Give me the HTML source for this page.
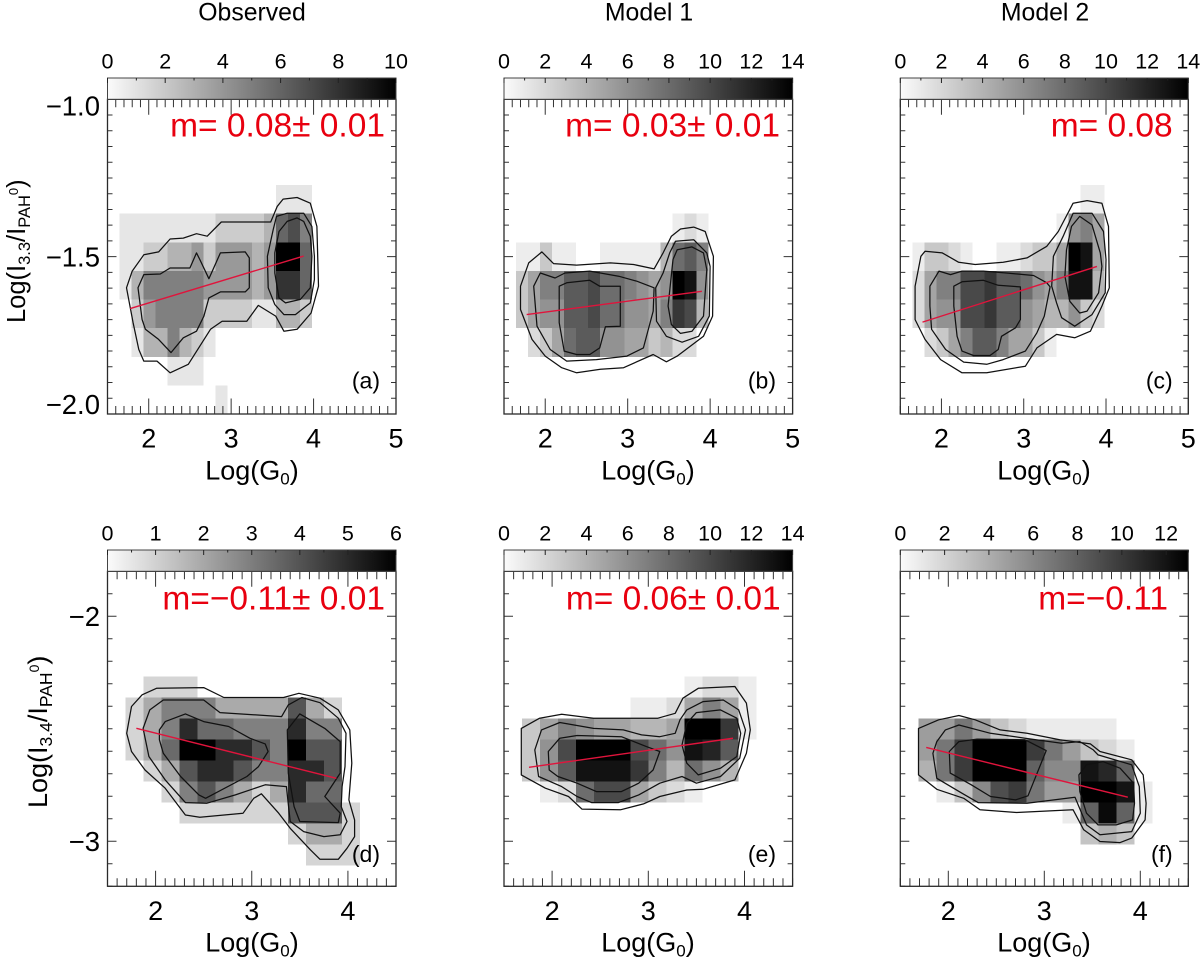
<!DOCTYPE html>
<html lang="en">
<head>
<meta charset="utf-8">
<title>Log(I/IPAH0) versus Log(G0) density panels</title>
<style>
html,body{margin:0;padding:0;background:#fff;}
svg{display:block;font-family:"Liberation Sans",Arial,sans-serif;}
.ttl{font-size:24.8px;fill:#000;text-anchor:middle;}
.xl{font-size:27px;fill:#000;text-anchor:middle;}
.m{font-size:33.5px;fill:#e8000f;text-anchor:end;}
.tag{font-size:23px;fill:#000;text-anchor:end;}
</style>
</head>
<body>
<svg id="figure" xmlns="http://www.w3.org/2000/svg" width="1200" height="958" viewBox="0 0 1200 958">
  <defs>
    <linearGradient id="cbar-gradient" x1="0" x2="1" y1="0" y2="0">
      <stop offset="0" stop-color="#fbfbfb"/>
      <stop offset="1" stop-color="#000"/>
    </linearGradient>
  </defs>
  <g id="marks"></g>

  <text class="ttl" x="252" y="20.5">Observed</text>
  <text class="ttl" x="649" y="20.5">Model 1</text>
  <text class="ttl" x="1045" y="20.5">Model 2</text>

  <text class="m" x="385" y="136.7">m= 0.08± 0.01</text>
  <text class="m" x="780" y="136.7">m= 0.03± 0.01</text>
  <text class="m" x="1172.7" y="136.7">m= 0.08</text>
  <text class="m" x="385" y="609.3">m=−0.11± 0.01</text>
  <text class="m" x="780.7" y="609.3">m= 0.06± 0.01</text>
  <text class="m" x="1168" y="609.3">m=−0.11</text>

  <text class="tag" x="380" y="388.5">(a)</text>
  <text class="tag" x="776" y="388.5">(b)</text>
  <text class="tag" x="1172.7" y="388.5">(c)</text>
  <text class="tag" x="380" y="862">(d)</text>
  <text class="tag" x="776" y="862">(e)</text>
  <text class="tag" x="1172.7" y="862">(f)</text>

  <text class="xl" x="252" y="479.3">Log(G<tspan font-size="17" dy="5">0</tspan><tspan dy="-5">)</tspan></text>
  <text class="xl" x="648" y="479.3">Log(G<tspan font-size="17" dy="5">0</tspan><tspan dy="-5">)</tspan></text>
  <text class="xl" x="1044" y="479.3">Log(G<tspan font-size="17" dy="5">0</tspan><tspan dy="-5">)</tspan></text>
  <text class="xl" x="252" y="951.5">Log(G<tspan font-size="17" dy="5">0</tspan><tspan dy="-5">)</tspan></text>
  <text class="xl" x="648" y="951.5">Log(G<tspan font-size="17" dy="5">0</tspan><tspan dy="-5">)</tspan></text>
  <text class="xl" x="1044" y="951.5">Log(G<tspan font-size="17" dy="5">0</tspan><tspan dy="-5">)</tspan></text>

  <text transform="translate(25,323) rotate(-90)" font-size="25.5" fill="#000">Log(I<tspan font-size="16.5" dy="5">3.3</tspan><tspan dy="-5">/I</tspan><tspan font-size="16.5" dy="5">PAH</tspan><tspan font-size="13" dy="-12">0</tspan><tspan dy="7">)</tspan></text>
  <text transform="translate(47,808) rotate(-90)" font-size="27" fill="#000">Log(I<tspan font-size="17.5" dy="5">3.4</tspan><tspan dy="-5">/I</tspan><tspan font-size="17.5" dy="5">PAH</tspan><tspan font-size="14" dy="-13">0</tspan><tspan dy="8">)</tspan></text>
</svg>

<script>
/* ---------- shared tick values ---------- */
const xTicksTop = [2, 3, 4, 5];
const xTicksBottom = [2, 3, 4];
const yTicksTop = [-1.0, -1.5, -2.0];
const yTickLabelsTop = ['−1.0', '−1.5', '−2.0'];
const yTicksBottom = [-2, -3];
const yTickLabelsBottom = ['−2', '−3'];

const cbarTicksA = [0, 2, 4, 6, 8, 10];
const cbarTicksB = [0, 2, 4, 6, 8, 10, 12, 14];
const cbarTicksC = [0, 2, 4, 6, 8, 10, 12, 14];
const cbarTicksD = [0, 1, 2, 3, 4, 5, 6];
const cbarTicksE = [0, 2, 4, 6, 8, 10, 12, 14];
const cbarTicksF = [0, 2, 4, 6, 8, 10, 12];

/* ---------- counts per bin, rows from top of the axis ---------- */
const heatA = [[],[],[],
 [0,0,0,0,0,0,0,0,0,0,0,0,0,0,1,1,1],
 [0,1,1,1,1,1,1,1,1,2,2,2,2,3,6,7,5],
 [0,1,1,2,2,3,3,4,2,4,4,4,3,4,10,10,6],
 [0,1,3,5,5,5,5,5,4,4,4,4,3,4,8,8,6],
 [0,0,2,4,5,5,5,5,2,2,2,2,1,1,3,3,2],
 [0,0,1,3,3,5,3,2,1],
 [0,0,0,0,0,1,1,1],
 [0,0,0,0,0,0,0,0,0,1]];
const heatB = [[],[],[],[],
 [0,0,0,0,0,0,0,0,0,0,0,0,0,0,1,2,1],
 [0,1,1,3,1,1,0,0,1,1,1,1,1,4,8,9,7],
 [0,3,5,7,7,9,9,10,8,8,7,6,5,6,14,13,6],
 [0,3,5,6,6,9,9,10,8,8,6,6,5,7,11,10,4],
 [0,0,2,3,5,8,9,9,6,6,5,5,3,4,2,2]];
const heatC = [[],[],[],
 [0,0,0,0,0,0,0,0,0,0,0,0,0,0,0,1,1],
 [0,0,0,0,0,0,0,0,0,0,0,0,0,1,6,7,5],
 [0,1,3,3,2,1,0,0,1,1,2,3,3,5,14,13,5],
 [0,2,5,7,7,10,10,11,9,9,8,6,5,7,13,13,4],
 [0,2,5,6,6,10,10,11,9,9,6,5,4,4,6,3,2],
 [0,0,2,3,5,7,9,9,7,5,5,3,1]];
const heatD = [[],[],[],[],[],
 [0,0,1,1,1],
 [0,1,2,3,3,3,2,2,2,2,4,2,1],
 [0,1,2,3,5,3.5,3.5,3,3,3,5,3,3],
 [0,1,2,3.5,6,6,5,5,4,3,6,4,4],
 [0,0,1,2,4,5,5,4,3,3,5,5,4],
 [0,0,0,1,3,4,3,2,1,2,5,3.5,3.5],
 [0,0,0,0,1,1,1,1,1,1,4,4,4,1],
 [0,0,0,0,0,0,0,0,0,0,1,2,2,1],
 [0,0,0,0,0,0,0,0,0,0,0,1,1,1]];
const heatE = [[],[],[],[],[],
 [0,0,0,0,0,0,0,0,0,0,1,2,2,1],
 [0,0,0,0,0,0,0,1,1,2,5,7,5,1],
 [0,3,5,7,6,5,5,4,4,5,14,14,11,1],
 [0,3,6,10,14,14,14,10,8,6,13,12,9],
 [0,3,6,9,13,13,13,11,7,4,8,6,4],
 [0,0,1,2,8,10,10,5,3,2,1]];
const heatF = [[],[],[],[],[],[],[],
 [0,5,5,7,5,3,2,1,1,1,1,1],
 [0,5,7,10,13,13,13,10,7,5,3,2,1],
 [0,4,7,10,13,13,13,8,6,6,12,11,8],
 [0,0,1,3,6,9,10,7,5,5,13,13,12,1],
 [0,0,0,0,0,0,0,0,0,1,8,12.5,8,1],
 [0,0,0,0,0,0,0,0,0,0,3,4,3]];

/* ---------- density contours as [logG0, logRatio] ---------- */
const contoursA = [
 [[1.73,-1.599],[1.80,-1.546],[1.94,-1.494],[2.12,-1.485],[2.26,-1.444],[2.42,-1.441],[2.58,-1.427],[2.71,-1.435],[2.88,-1.39],[3.48,-1.39],[3.56,-1.34],[3.63,-1.317],[3.80,-1.312],[3.96,-1.33],[4.04,-1.404],[4.06,-1.594],[3.97,-1.679],[3.80,-1.731],[3.64,-1.737],[3.54,-1.689],[3.33,-1.655],[3.19,-1.705],[2.89,-1.705],[2.75,-1.731],[2.48,-1.842],[2.26,-1.869],[2.10,-1.832],[1.94,-1.832],[1.88,-1.795],[1.81,-1.71]],
 [[1.87,-1.599],[1.94,-1.557],[2.14,-1.555],[2.26,-1.536],[2.50,-1.536],[2.58,-1.488],[2.62,-1.509],[2.73,-1.57],[2.87,-1.488],[3.17,-1.485],[3.22,-1.504],[3.22,-1.599],[3.17,-1.612],[2.87,-1.612],[2.73,-1.631],[2.67,-1.689],[2.58,-1.737],[2.42,-1.758],[2.27,-1.805],[2.12,-1.763],[1.96,-1.731],[1.92,-1.70]],
 [[3.44,-1.499],[3.51,-1.414],[3.55,-1.372],[3.68,-1.362],[3.88,-1.362],[3.98,-1.404],[4.01,-1.499],[4.01,-1.573],[3.96,-1.647],[3.78,-1.684],[3.64,-1.684],[3.53,-1.652],[3.45,-1.599]],
 [[3.53,-1.488],[3.58,-1.42],[3.68,-1.388],[3.80,-1.377],[3.88,-1.388],[3.96,-1.435],[3.98,-1.499],[3.96,-1.599],[3.84,-1.636],[3.66,-1.647],[3.58,-1.631],[3.53,-1.552]]];
const contoursB = [
 [[1.70,-1.594],[1.80,-1.52],[1.96,-1.485],[2.10,-1.522],[2.38,-1.527],[2.79,-1.52],[3.07,-1.525],[3.32,-1.539],[3.43,-1.488],[3.53,-1.435],[3.64,-1.412],[3.80,-1.406],[3.94,-1.42],[4.04,-1.499],[4.03,-1.689],[3.92,-1.753],[3.60,-1.816],[3.47,-1.834],[3.31,-1.811],[2.95,-1.853],[2.67,-1.858],[2.38,-1.869],[2.20,-1.853],[2.00,-1.816],[1.84,-1.763],[1.70,-1.668]],
 [[1.86,-1.594],[1.94,-1.552],[2.12,-1.568],[2.24,-1.552],[2.54,-1.546],[2.89,-1.562],[3.11,-1.578],[3.32,-1.599],[3.31,-1.673],[3.19,-1.79],[2.99,-1.816],[2.62,-1.827],[2.26,-1.832],[2.06,-1.795],[1.90,-1.721]],
 [[2.17,-1.594],[2.26,-1.583],[2.54,-1.575],[2.66,-1.594],[2.91,-1.594],[2.91,-1.721],[2.73,-1.723],[2.66,-1.79],[2.54,-1.811],[2.38,-1.811],[2.23,-1.80],[2.17,-1.71]],
 [[3.34,-1.599],[3.43,-1.552],[3.51,-1.488],[3.58,-1.451],[3.80,-1.446],[3.96,-1.488],[4.00,-1.531],[3.99,-1.689],[3.86,-1.753],[3.66,-1.772],[3.47,-1.753],[3.35,-1.705]],
 [[3.49,-1.657],[3.55,-1.509],[3.60,-1.478],[3.78,-1.469],[3.92,-1.488],[3.96,-1.541],[3.92,-1.689],[3.78,-1.737],[3.64,-1.744],[3.53,-1.716]]];
const contoursC = [
 [[1.68,-1.594],[1.75,-1.499],[1.80,-1.483],[2.01,-1.488],[2.21,-1.518],[2.41,-1.525],[2.75,-1.518],[3.04,-1.504],[3.28,-1.467],[3.42,-1.42],[3.60,-1.33],[3.77,-1.322],[3.95,-1.33],[4.03,-1.404],[4.04,-1.599],[3.95,-1.657],[3.81,-1.737],[3.62,-1.758],[3.40,-1.747],[3.16,-1.79],[3.02,-1.848],[2.55,-1.869],[2.25,-1.869],[1.99,-1.827],[1.80,-1.763],[1.68,-1.70]],
 [[1.86,-1.594],[1.97,-1.546],[2.11,-1.557],[2.25,-1.546],[2.51,-1.546],[2.79,-1.552],[3.12,-1.56],[3.28,-1.583],[3.32,-1.596],[3.25,-1.689],[3.16,-1.742],[3.02,-1.80],[2.75,-1.827],[2.55,-1.842],[2.27,-1.835],[2.05,-1.795],[1.88,-1.731],[1.86,-1.657]],
 [[2.15,-1.594],[2.25,-1.58],[2.51,-1.575],[2.69,-1.591],[2.96,-1.596],[2.96,-1.70],[2.90,-1.726],[2.73,-1.753],[2.69,-1.795],[2.59,-1.814],[2.39,-1.814],[2.25,-1.80],[2.19,-1.753],[2.15,-1.657]],
 [[3.34,-1.594],[3.36,-1.499],[3.48,-1.435],[3.60,-1.362],[3.83,-1.362],[3.97,-1.42],[4.00,-1.509],[3.99,-1.615],[3.83,-1.684],[3.62,-1.721],[3.46,-1.694],[3.40,-1.647]],
 [[3.50,-1.562],[3.52,-1.478],[3.58,-1.404],[3.68,-1.372],[3.83,-1.399],[3.93,-1.488],[3.95,-1.531],[3.91,-1.615],[3.77,-1.673],[3.68,-1.679],[3.56,-1.642]]];
const contoursD = [
 [[1.70,-2.52],[1.75,-2.401],[1.86,-2.349],[2.01,-2.32],[2.50,-2.317],[2.71,-2.361],[3.33,-2.361],[3.49,-2.342],[3.71,-2.364],[3.90,-2.416],[4.02,-2.505],[4.04,-2.653],[4.01,-2.816],[4.07,-2.905],[4.07,-2.979],[3.99,-3.031],[3.90,-3.08],[3.71,-3.08],[3.61,-3.038],[3.40,-2.942],[3.28,-2.875],[3.10,-2.789],[3.02,-2.809],[2.91,-2.875],[2.46,-2.893],[2.31,-2.883],[2.10,-2.764],[1.89,-2.683],[1.75,-2.601]],
 [[1.87,-2.498],[1.94,-2.416],[2.08,-2.372],[2.50,-2.372],[2.67,-2.428],[3.31,-2.446],[3.38,-2.394],[3.52,-2.361],[3.71,-2.384],[3.90,-2.453],[3.98,-2.52],[3.97,-2.668],[3.94,-2.757],[3.93,-2.846],[3.99,-2.912],[3.92,-2.971],[3.75,-2.979],[3.54,-2.957],[3.40,-2.912],[3.36,-2.757],[3.14,-2.749],[2.83,-2.794],[2.53,-2.831],[2.31,-2.828],[2.10,-2.727],[1.93,-2.623]],
 [[2.04,-2.505],[2.10,-2.468],[2.31,-2.434],[2.50,-2.468],[2.76,-2.49],[2.98,-2.542],[3.14,-2.567],[3.17,-2.601],[3.07,-2.668],[2.95,-2.712],[2.52,-2.809],[2.45,-2.794],[2.26,-2.712],[2.08,-2.609],[2.04,-2.549]],
 [[3.37,-2.505],[3.50,-2.434],[3.76,-2.498],[3.92,-2.557],[3.92,-2.697],[3.76,-2.801],[3.92,-2.875],[3.90,-2.917],[3.50,-2.912],[3.44,-2.846],[3.38,-2.697]]];
const contoursE = [
 [[1.68,-2.498],[1.87,-2.453],[2.10,-2.435],[2.43,-2.453],[3.10,-2.453],[3.28,-2.431],[3.36,-2.364],[3.52,-2.32],[3.90,-2.312],[4.02,-2.386],[4.06,-2.505],[4.02,-2.609],[3.90,-2.727],[3.57,-2.769],[3.40,-2.772],[3.12,-2.801],[2.95,-2.834],[2.71,-2.86],[2.31,-2.857],[2.17,-2.801],[1.93,-2.764],[1.68,-2.705]],
 [[1.82,-2.594],[1.89,-2.505],[2.08,-2.472],[2.43,-2.498],[2.74,-2.505],[2.93,-2.527],[3.12,-2.535],[3.28,-2.52],[3.33,-2.46],[3.40,-2.416],[3.57,-2.379],[3.78,-2.372],[3.94,-2.416],[4.01,-2.505],[3.95,-2.631],[3.75,-2.712],[3.50,-2.742],[3.35,-2.712],[3.12,-2.742],[2.90,-2.794],[2.69,-2.828],[2.41,-2.828],[2.26,-2.801],[2.10,-2.757],[1.86,-2.712]],
 [[1.96,-2.601],[2.08,-2.542],[2.26,-2.53],[2.72,-2.535],[2.98,-2.579],[3.12,-2.601],[3.05,-2.683],[2.90,-2.742],[2.72,-2.779],[2.46,-2.779],[2.26,-2.742],[2.06,-2.712],[1.97,-2.683]],
 [[3.35,-2.572],[3.40,-2.475],[3.50,-2.428],[3.75,-2.416],[3.92,-2.453],[3.96,-2.52],[3.92,-2.623],[3.75,-2.675],[3.52,-2.705],[3.40,-2.653]]];
const contoursF = [
 [[1.69,-2.498],[1.90,-2.46],[2.11,-2.441],[2.28,-2.46],[2.54,-2.505],[2.82,-2.52],[3.16,-2.549],[3.48,-2.567],[3.58,-2.601],[3.91,-2.638],[4.03,-2.705],[4.06,-2.831],[4.05,-2.905],[3.91,-2.986],[3.79,-3.006],[3.58,-3.001],[3.41,-2.949],[3.30,-2.86],[2.71,-2.872],[2.33,-2.86],[2.16,-2.809],[1.88,-2.769],[1.69,-2.705]],
 [[1.84,-2.609],[1.88,-2.557],[1.97,-2.505],[2.11,-2.483],[2.44,-2.52],[2.80,-2.542],[3.18,-2.564],[3.37,-2.557],[3.51,-2.594],[3.56,-2.616],[3.91,-2.66],[3.99,-2.757],[4.00,-2.875],[3.91,-2.957],[3.58,-2.971],[3.44,-2.927],[3.32,-2.804],[2.82,-2.831],[2.31,-2.828],[2.14,-2.786],[1.88,-2.72]],
 [[2.01,-2.601],[2.11,-2.557],[2.30,-2.546],[2.80,-2.549],[3.02,-2.597],[2.83,-2.798],[2.70,-2.816],[2.44,-2.801],[2.24,-2.749],[2.02,-2.697]],
 [[3.36,-2.705],[3.44,-2.66],[3.61,-2.646],[3.79,-2.675],[3.93,-2.742],[3.94,-2.831],[3.92,-2.905],[3.75,-2.927],[3.56,-2.927],[3.44,-2.875],[3.37,-2.779]]];

/* ---------- straight-line fits: end points in data units ---------- */
const fitXA = [1.775, 3.88];
const fitYA = [-1.665, -1.498];
const fitXB = [1.775, 3.90];
const fitYB = [-1.684, -1.61];
const fitXC = [1.77, 3.89];
const fitYC = [-1.708, -1.531];
const fitXD = [1.80, 3.88];
const fitYD = [-2.498, -2.72];
const fitXE = [1.76, 3.88];
const fitYE = [-2.671, -2.542];
const fitXF = [1.77, 3.87];
const fitYF = [-2.583, -2.804];

const NS = 'http://www.w3.org/2000/svg';
const root = document.getElementById('marks');

function make(parent, tag, attrs, txt) {
  const el = document.createElementNS(NS, tag);
  for (const k in attrs) el.setAttribute(k, attrs[k]);
  if (txt !== undefined) el.textContent = txt;
  parent.appendChild(el);
  return el;
}

function drawPanel(c) {
  const g = make(root, 'g', {});
  
  

  const W = c.right - c.left, H = c.bottom - c.top;
  const sx = v => c.left + (v - c.xMin) / (c.xMax - c.xMin) * W;
  const sy = v => c.top + (c.yMax - v) / (c.yMax - c.yMin) * H;
  const sc = v => c.left + v / c.cMax * W;
  const shade = v => { const s = Math.round(255 * (1 - v / c.cMax)); return 'rgb(' + s + ',' + s + ',' + s + ')'; };

  /* heatmap */
  const heatGroup = make(g, 'g', {'shape-rendering': 'crispEdges'});
  
  
  const dx = (c.xMax - c.xMin) / c.cols, dy = (c.yMax - c.yMin) / c.rows;
  c.heat.forEach((row, r) => row.forEach((v, k) => {
    if (!v) return;
    const x0 = sx(c.xMin + k * dx), x1 = sx(c.xMin + (k + 1) * dx);
    const y0 = sy(c.yMax - r * dy), y1 = sy(c.yMax - (r + 1) * dy);
    const cell = make(heatGroup, 'rect', {x: x0, y: y0, width: x1 - x0, height: y1 - y0, fill: shade(v)});
    
    
  }));

  /* contours */
  c.contours.forEach(line => {
    const d = line.map((p, i) => (i ? 'L' : 'M') + sx(p[0]).toFixed(1) + ' ' + sy(p[1]).toFixed(1)).join('') + 'Z';
    const path = make(g, 'path', {d: d, fill: 'none', stroke: '#111', 'stroke-width': 1.25, 'stroke-linejoin': 'round'});
    
    
  });

  /* fit line */
  const fit = make(g, 'line', {x1: sx(c.fitX[0]), y1: sy(c.fitY[0]), x2: sx(c.fitX[1]), y2: sy(c.fitY[1]), stroke: '#e0143c', 'stroke-width': 1.4});
  
  

  /* axis ticks */
  const axis = make(g, 'g', {stroke: '#333', 'stroke-width': 1, fill: 'none'});
  
  
  const isMajor = (v, list) => list.some(t => Math.abs(t - v) < 1e-6);
  const nx = Math.round((c.xMax - c.xMin) / 0.1);
  for (let i = 0; i <= nx; i++) {
    const v = c.xMin + i * 0.1, len = isMajor(v, c.xTicks) ? 15.5 : 8, x = sx(v);
    make(axis, 'path', {d: 'M' + x + ' ' + c.bottom + 'v' + (-len) + 'M' + x + ' ' + c.top + 'v' + len});
  }
  const ny = Math.round((c.yMax - c.yMin) / c.yStep);
  for (let i = 0; i <= ny; i++) {
    const v = c.yMax - i * c.yStep, len = isMajor(v, c.yTicks) ? 9 : 5, y = sy(v);
    make(axis, 'path', {d: 'M' + c.left + ' ' + y + 'h' + len + 'M' + c.right + ' ' + y + 'h' + (-len)});
  }
  const frame = make(g, 'rect', {x: c.left, y: c.top, width: W, height: H, fill: 'none', stroke: '#2a2a2a', 'stroke-width': 1.3});
  
  

  /* x tick labels */
  c.xTicks.forEach(v => {
    const t = make(g, 'text', {x: sx(v), y: c.bottom + 33.5, 'text-anchor': 'middle', 'font-size': 27, fill: '#000'}, String(v));
    
    
  });

  /* y tick labels (first column only) */
  if (c.yLabels) {
    c.yTicks.forEach((v, i) => {
      const base = Math.max(c.top + 16, Math.min(c.bottom, sy(v) + 9.8));
      const t = make(g, 'text', {x: 100, y: base, 'text-anchor': 'end', 'font-size': 27.5, fill: '#000'}, c.yLabels[i]);
      
      
    });
  }

  /* colour bar */
  const barTop = c.top - 21.3;
  const bar = make(g, 'rect', {x: c.left, y: barTop, width: W, height: 21.3, fill: 'url(#cbar-gradient)', stroke: '#444', 'stroke-width': 1});
  
  
  const step = c.cTicks[1] - c.cTicks[0];
  const barTicks = make(g, 'g', {stroke: '#222', 'stroke-width': 1});
  
  
  c.cTicks.forEach(v => {
    make(barTicks, 'line', {x1: sc(v), x2: sc(v), y1: barTop, y2: barTop + 5});
    if (v + step / 2 <= c.cMax) make(barTicks, 'line', {x1: sc(v + step / 2), x2: sc(v + step / 2), y1: barTop, y2: barTop + 2.5});
    const t = make(g, 'text', {x: sc(v), y: barTop - 9.6, 'text-anchor': 'middle', 'font-size': 21.5, fill: '#000'}, String(v));
    
    
  });
}

const topRow = {top: 99.3, bottom: 414, xMin: 1.5, xMax: 5, yMin: -2, yMax: -1, yStep: 0.05, cols: 24, rows: 11, xTicks: xTicksTop, yTicks: yTicksTop};
const botRow = {top: 571.3, bottom: 886.3, xMin: 1.5, xMax: 4.5, yMin: -3.2, yMax: -1.8, yStep: 0.1, cols: 16, rows: 15, xTicks: xTicksBottom, yTicks: yTicksBottom};

drawPanel(Object.assign({}, topRow, {id: 'a', left: 107.5, right: 396, cMax: 10, cTicks: cbarTicksA, heat: heatA, contours: contoursA, fitX: fitXA, fitY: fitYA, yLabels: yTickLabelsTop}));
drawPanel(Object.assign({}, topRow, {id: 'b', left: 504, right: 792.6, cMax: 14, cTicks: cbarTicksB, heat: heatB, contours: contoursB, fitX: fitXB, fitY: fitYB}));
drawPanel(Object.assign({}, topRow, {id: 'c', left: 900.3, right: 1188.3, cMax: 14, cTicks: cbarTicksC, heat: heatC, contours: contoursC, fitX: fitXC, fitY: fitYC}));
drawPanel(Object.assign({}, botRow, {id: 'd', left: 107.5, right: 396, cMax: 6, cTicks: cbarTicksD, heat: heatD, contours: contoursD, fitX: fitXD, fitY: fitYD, yLabels: yTickLabelsBottom}));
drawPanel(Object.assign({}, botRow, {id: 'e', left: 504, right: 792.6, cMax: 14, cTicks: cbarTicksE, heat: heatE, contours: contoursE, fitX: fitXE, fitY: fitYE}));
drawPanel(Object.assign({}, botRow, {id: 'f', left: 900.3, right: 1188.3, cMax: 13, cTicks: cbarTicksF, heat: heatF, contours: contoursF, fitX: fitXF, fitY: fitYF}));
</script>
</body>
</html>
